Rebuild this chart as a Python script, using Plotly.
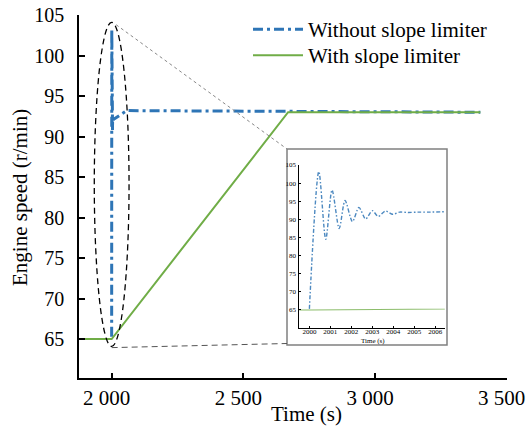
import plotly.graph_objects as go

# ---------------- data ----------------
time_blue = [2000.0, 2000.45, 2000.78, 2001.08, 2001.42, 2001.70, 2002.05, 2002.36,
             2002.68, 2003.00, 2003.28, 2003.62, 2003.97, 2004.30, 2004.70, 2005.20,
             2005.70, 2006.43, 2057, 3400]
speed_blue = [65.3, 103.2, 84.5, 98.1, 87.5, 95.2, 89.4, 93.3,
              90.1, 92.4, 90.8, 92.3, 91.4, 92.0, 91.9, 92.0,
              92.0, 92.1, 93.2, 93.0]
time_green = [1876, 2000, 2670, 3400]
speed_green = [65.0, 65.0, 93.0, 93.0]

x_tickvals = [2000, 2500, 3000, 3500]
x_ticktext = ["2 000", "2 500", "3 000", "3 500"]
y_tickvals = [65, 70, 75, 80, 85, 90, 95, 100, 105]
inset_x_tickvals = [2000, 2001, 2002, 2003, 2004, 2005, 2006]
inset_y_tickvals = [65, 70, 75, 80, 85, 90, 95, 100, 105]

name_blue = "Without slope limiter"
name_green = "With slope limiter"

# ---------------- style / layout constants ----------------
W, H = 526, 432
L, R, T, B = 79, 506.7, 15, 378
XR = [1876, 3500]
YR = [60.2, 105]
IXR = [1999.52, 2006.45]
IYR = [60, 105]
BLUE = "#2e75b6"
GREEN = "#70ad47"
FONT = "Times New Roman, Liberation Serif, DejaVu Serif, serif"


def px_x(p):          # pixel -> paper (paper == whole figure, margins are 0)
    return p / W


def px_y(p):
    return 1 - p / H


def dpx_x(v):         # main data -> pixel
    return L + (v - XR[0]) / (XR[1] - XR[0]) * (R - L)


def dpx_y(v):
    return B - (v - YR[0]) / (YR[1] - YR[0]) * (B - T)


fig = go.Figure()

# main traces
fig.add_trace(go.Scatter(x=time_blue, y=speed_blue, mode="lines", name=name_blue,
                         line=dict(color=BLUE, width=3, dash="10px,4px,3px,4px"),
                         xaxis="x", yaxis="y", legend="legend"))
fig.add_trace(go.Scatter(x=time_green, y=speed_green, mode="lines", name=name_green,
                         line=dict(color=GREEN, width=2), xaxis="x", yaxis="y",
                         legend="legend2"))

# inset traces
fig.add_trace(go.Scatter(x=time_blue[:-1], y=speed_blue[:-1], mode="lines", showlegend=False,
                         line=dict(color=BLUE, width=1.4, dash="4px,2px,1.5px,2px", shape="spline",
                                   smoothing=0.8),
                         xaxis="x2", yaxis="y2", opacity=0.85))
fig.add_trace(go.Scatter(x=time_green, y=speed_green, mode="lines", showlegend=False,
                         line=dict(color=GREEN, width=1.2), xaxis="x2", yaxis="y2", opacity=0.8))

axis_common = dict(showgrid=False, zeroline=False, showline=True, linecolor="black",
                   ticks="inside", tickcolor="black", mirror=False, automargin=False)

# ellipse (zoom marker) and connectors
ell_x0, ell_x1, ell_y0, ell_y1 = 1934, 2066, 64.1, 104.1
frame_x0, frame_x1 = px_x(287), px_x(447)
frame_y0, frame_y1 = px_y(345), px_y(149)

shapes = [
    dict(type="circle", xref="x", yref="y", x0=ell_x0, x1=ell_x1, y0=ell_y0, y1=ell_y1,
         line=dict(color="black", width=1.3, dash="6px,4px"), layer="above"),
    dict(type="line", xref="paper", yref="paper", x0=px_x(dpx_x(2017)), y0=px_y(dpx_y(103.8)),
         x1=frame_x0, y1=frame_y1, line=dict(color="#888888", width=1, dash="3px,3px")),
    dict(type="line", xref="paper", yref="paper", x0=px_x(dpx_x(2000)), y0=px_y(dpx_y(63.95)),
         x1=frame_x0, y1=px_y(343.5), line=dict(color="#555555", width=1, dash="6px,4px")),
    dict(type="rect", xref="paper", yref="paper", x0=frame_x0, x1=frame_x1,
         y0=frame_y0, y1=frame_y1, line=dict(color="#808080", width=1.5), layer="below",
         fillcolor="white"),
]

annotations = [
    dict(text="Engine speed (r/min)", xref="paper", yref="paper", x=px_x(20), y=px_y(198),
         textangle=-90, showarrow=False, font=dict(family=FONT, size=21, color="black"),
         xanchor="center", yanchor="middle"),
    dict(text="Time (s)", xref="paper", yref="paper", x=px_x(306), y=px_y(414),
         showarrow=False, font=dict(family=FONT, size=21, color="black"),
         xanchor="center", yanchor="middle"),
    dict(text="Time (s)", xref="paper", yref="paper", x=px_x(373), y=px_y(340.5),
         showarrow=False, font=dict(family=FONT, size=7, color="black"),
         xanchor="center", yanchor="middle"),
]

legend_common = dict(xanchor="left", yanchor="top", bgcolor="rgba(0,0,0,0)",
                     font=dict(family=FONT, size=21, color="black"), itemwidth=50)

fig.update_layout(
    width=W, height=H,
    margin=dict(l=0, r=0, t=0, b=0, pad=0, autoexpand=False),
    paper_bgcolor="white", plot_bgcolor="rgba(0,0,0,0)",
    font=dict(family=FONT, color="black"),
    xaxis=dict(range=XR, domain=[px_x(L), px_x(R)], anchor="y", tickvals=x_tickvals,
               ticktext=x_ticktext,
               ticklen=5, tickwidth=1.5, linewidth=1.5, ticklabeloverflow="allow",
               ticklabelshift=-5,
               tickfont=dict(family=FONT, size=21), ticklabelstandoff=0, **axis_common),
    yaxis=dict(range=YR, domain=[px_y(B), px_y(T)], anchor="x", tickvals=y_tickvals,
               ticklen=6, tickwidth=1.5,
               linewidth=1.5, tickfont=dict(family=FONT, size=20), ticklabelstandoff=9,
               **axis_common),
    xaxis2=dict(range=IXR, domain=[px_x(299.3), px_x(444.8)], anchor="y2",
                tickvals=inset_x_tickvals, ticklen=2, tickwidth=0.8, linewidth=0.9,
                tickfont=dict(family=FONT, size=7), ticklabelstandoff=-3, **axis_common),
    yaxis2=dict(range=IYR, domain=[px_y(328.1), px_y(165)], anchor="x2",
                tickvals=inset_y_tickvals, ticklen=2, tickwidth=0.8, linewidth=0.9,
                tickfont=dict(family=FONT, size=7), ticklabelstandoff=1, **axis_common),
    showlegend=True,
    legend=dict(x=px_x(248), y=px_y(9), **legend_common),
    legend2=dict(x=px_x(248), y=px_y(35), **legend_common),
    shapes=shapes,
    annotations=annotations,
)

fig.write_html("out.html")
